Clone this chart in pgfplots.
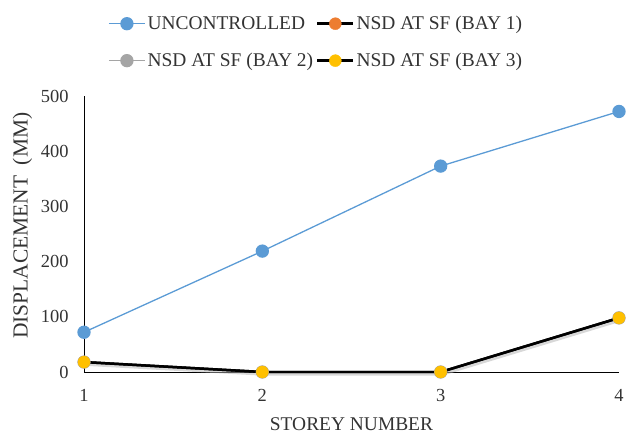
\documentclass[border=0pt]{standalone}
\usepackage{pgfplots}
\pgfplotsset{compat=1.18}
\usepackage{fontspec}
\setmainfont{Liberation Serif}
\definecolor{cblue}{HTML}{5B9BD5}
\definecolor{corange}{HTML}{ED7D31}
\definecolor{cgray}{HTML}{A5A5A5}
\definecolor{cyellow}{HTML}{FFC000}
\begin{document}
\begin{tikzpicture}
\path[use as bounding box] (0,0) rectangle (632bp,437bp);
\begin{axis}[
  at={(84bp,65bp)}, anchor=south west,
  scale only axis, width=535bp, height=276bp,
  xmin=1, xmax=4, ymin=0, ymax=500,
  xtick={1,2,3,4}, ytick={0,100,...,500},
  axis x line=bottom, axis y line=left,
  axis line style={black, line width=0.8pt, -},
  major tick length=0pt,
  tick label style={font=\fontsize{18.5}{21}\selectfont, text=black!80},
  /pgf/number format/assume math mode=true,
  xticklabel style={yshift=-14bp},
  yticklabel style={xshift=-12bp},
  xlabel={STOREY NUMBER}, ylabel={DISPLACEMENT\ \ (MM)},
  xlabel style={font=\fontsize{19.5}{22}\selectfont, text=black!80, at={(axis description cs:0.5,-0.188)}, anchor=center, inner sep=1pt},
  ylabel style={font=\fontsize{21.5}{24}\selectfont, text=black!80, at={(axis description cs:-0.115,0.53)}, anchor=center, rotate=0},
  clip=false,
  legend columns=2,
  legend style={at={(0.045,1.195)}, anchor=west, draw=none, fill=none, inner sep=0pt,
    font=\fontsize{19.5}{22}\selectfont, text=black!80,
    /tikz/every even column/.append style={column sep=1bp},
    row sep=18bp},
  legend cell align=left,
  legend image code/.code={\draw[mark repeat=2, mark phase=2, #1, mark size=6bp] plot coordinates {(0bp,0bp) (18bp,0bp) (36bp,0bp)};},
  every axis plot/.append style={mark=*, mark size=6bp},
]
\addplot[cblue, line width=1.3pt, mark options={fill=cblue, draw=cblue}] coordinates {(1,72) (2,219) (3,373) (4,472)};
\addlegendentry{UNCONTROLLED}
% shadows
\addplot[black!30, line width=3.5pt, opacity=0.5, mark=none, forget plot, yshift=-2bp, xshift=1.5bp] coordinates {(1,18) (2,0) (3,0) (4,98)};
\addplot[black, line width=2.5pt, mark options={fill=corange, draw=corange, line width=0.4pt}] coordinates {(1,18) (2,0) (3,0) (4,98)};
\addlegendentry{NSD AT SF (BAY 1)}
\addplot[cgray, line width=1.3pt, mark options={fill=cgray, draw=cgray}] coordinates {(1,18) (2,0) (3,0) (4,98)};
\addlegendentry{NSD AT SF (BAY 2)}
\addplot[black, line width=2.5pt, mark options={fill=cyellow, draw=cyellow, line width=0.4pt}] coordinates {(1,18) (2,0) (3,0) (4,98)};
\addlegendentry{NSD AT SF (BAY 3)}
\end{axis}
\end{tikzpicture}
\end{document}
